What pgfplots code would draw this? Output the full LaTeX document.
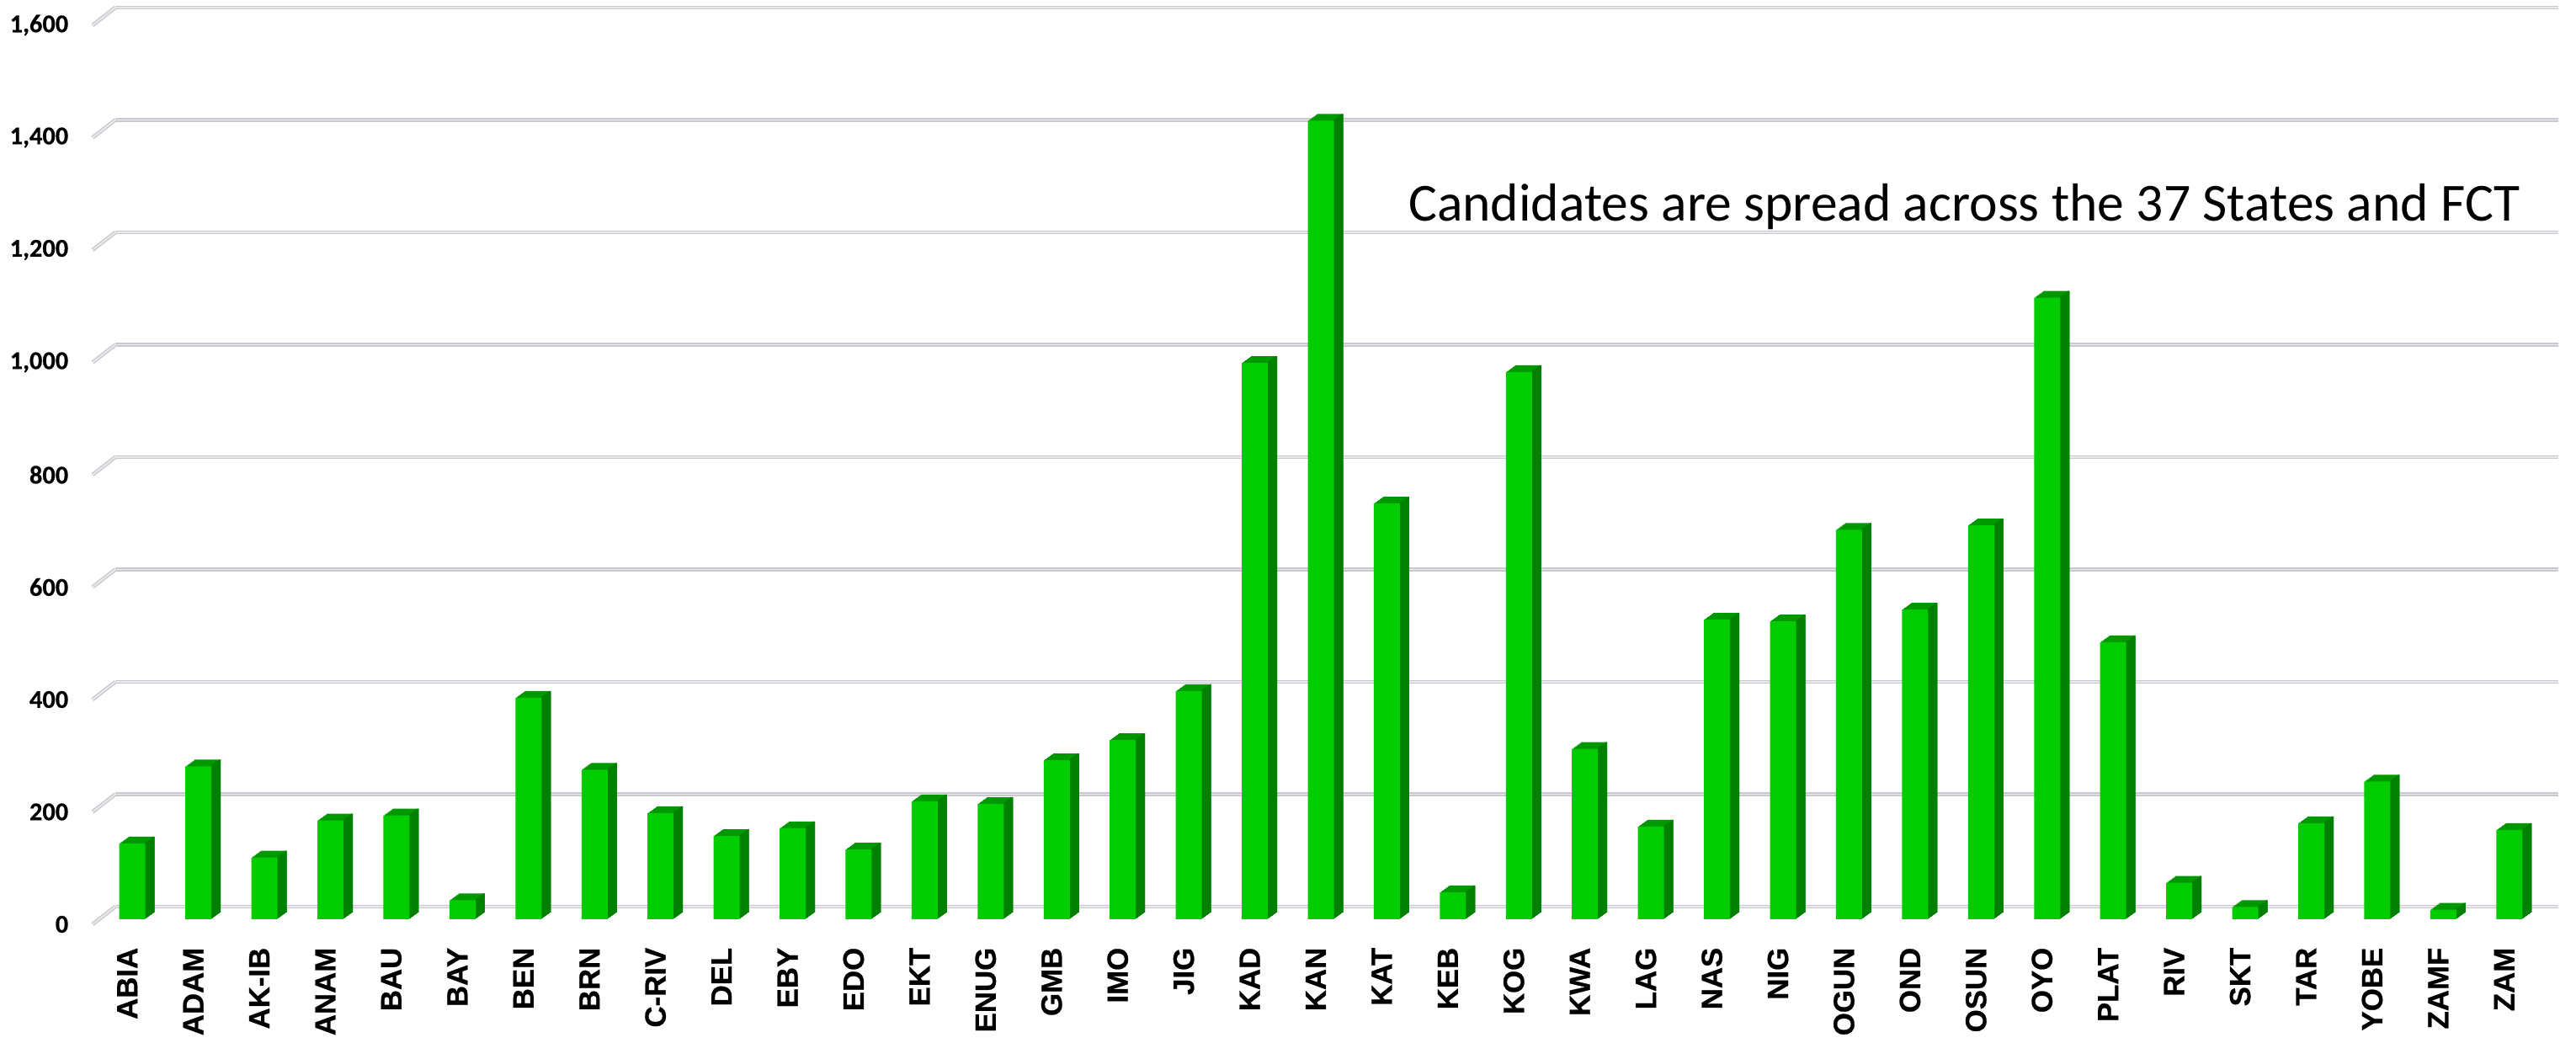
\documentclass[border=0pt]{standalone}
\usepackage{fontspec}
\setmainfont{Carlito}
\newfontfamily\arialfont{Liberation Sans}[BoldFeatures={FakeBold=0.7}]
\newfontfamily\carlitob{Carlito}[BoldFeatures={FakeBold=0.5}]
\usepackage{pgfplots}
\usepackage{pgfplotstable}
\pgfplotsset{compat=1.18}
\definecolor{barfront}{RGB}{0,204,0}
\definecolor{barside}{RGB}{0,128,0}
\definecolor{bartop}{RGB}{0,152,0}
\definecolor{gridc}{RGB}{200,200,206}
\definecolor{gridin}{RGB}{234,234,238}

\pgfplotstableread{
idx name value
0 ABIA 135
1 ADAM 272
2 AK-IB 110
3 ANAM 176
4 BAU 185
5 BAY 34
6 BEN 394
7 BRN 266
8 C-RIV 189
9 DEL 148
10 EBY 162
11 EDO 124
12 EKT 210
13 ENUG 205
14 GMB 283
15 IMO 319
16 JIG 406
17 KAD 990
18 KAN 1421
19 KAT 740
20 KEB 48
21 KOG 974
22 KWA 303
23 LAG 165
24 NAS 533
25 NIG 530
26 OGUN 693
27 OND 551
28 OSUN 701
29 OYO 1106
30 PLAT 493
31 RIV 65
32 SKT 22
33 TAR 171
34 YOBE 245
35 ZAMF 17
36 ZAM 159
}\data

\begin{document}
\begin{tikzpicture}
\path[use as bounding box] (-29.5pt,-36.75pt) rectangle (735.5pt,273pt);
\begin{axis}[
  scale only axis, width=725.5pt, height=267pt,
  xmin=-0.5, xmax=36.5, ymin=0, ymax=1600,
  axis line style={draw=none},
  major tick length=0pt,
  xtick={0,...,36},
  xticklabels from table={\data}{name},
  xticklabel style={font=\arialfont\bfseries\fontsize{8.7}{10}\selectfont, xshift=-1.5pt, rotate=90, anchor=east, inner sep=0pt},
  xticklabel shift=8.25pt,
  ytick={0,200,...,1600},
  yticklabel style={font=\carlitob\bfseries\fontsize{7.6}{9}\selectfont, anchor=east, inner sep=0pt, xshift=-9pt, yshift=-1.5pt},
  /pgf/number format/assume math mode=true,
  /pgf/number format/1000 sep={,},
  ymajorgrids,
  major grid style={draw=gridc, line width=0.35pt, double=gridin, double distance=0.45pt, xshift=4.75pt, yshift=3.75pt},
  clip=false,
]
\pgfplotsinvokeforeach{0,200,...,1600}{
  \draw[draw=gridc, line width=0.35pt, double=gridin, double distance=0.45pt]
    ([xshift=-2pt,yshift=-1.5pt]axis cs:-0.5,#1) -- ([xshift=4.75pt,yshift=3.75pt]axis cs:-0.5,#1);
}
\pgfplotsinvokeforeach{1,...,8}{
  \addplot[ybar, fill=bartop, draw=none, bar width=7.75pt, bar shift=0pt,
    xshift=#1*0.34375pt, yshift=#1*0.25pt] table[x=idx,y=value]{\data};
}
\pgfplotsinvokeforeach{1,...,8}{
  \addplot[ybar, fill=barside, draw=none, bar width=0.5pt, bar shift=3.625pt,
    xshift=#1*0.34375pt, yshift=#1*0.25pt] table[x=idx,y=value]{\data};
}
\addplot[ybar, fill=barfront, draw=none, bar width=7.75pt, bar shift=0pt]
  table[x=idx,y=value]{\data};
\node[anchor=base west, font=\fontsize{15.9}{18}\selectfont]
  at (rel axis cs:0.531,0.777) {Candidates are spread across the 37 States and FCT};
\end{axis}
\end{tikzpicture}
\end{document}
